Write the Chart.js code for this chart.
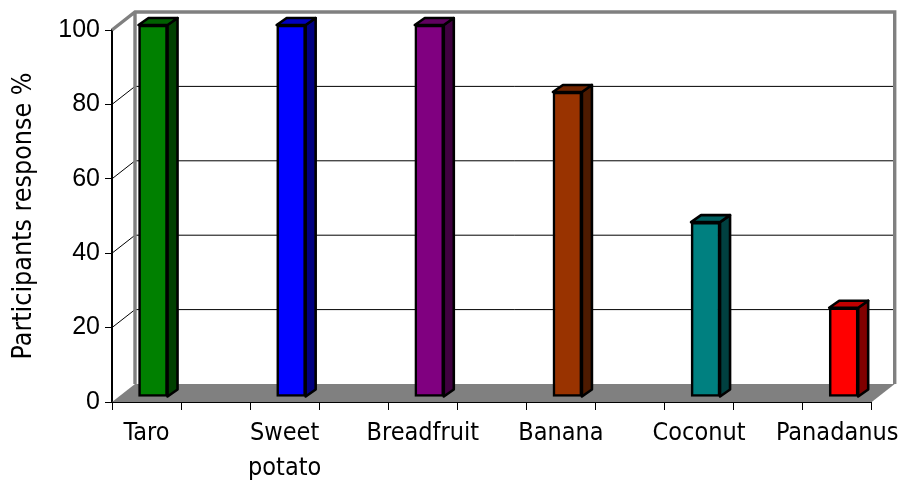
<!DOCTYPE html>
<html>
<head>
<meta charset="utf-8">
<style>
  html, body { margin: 0; padding: 0; background: #fff; }
  #wrap { width: 906px; height: 483px; }
</style>
<script src="https://cdn.jsdelivr.net/npm/chart.js@4"></script>
</head>
<body>
<div id="wrap"><canvas id="cropChart" width="906" height="483"></canvas></div>
<script>
// blank slots between the crops are empty categories in the original chart
const categories = ["Taro", "", ["Sweet", "potato"], "", "Breadfruit", "", "Banana", "", "Coconut", "", "Panadanus"];
const responses = [100, null, 100, null, 100, null, 82, null, 47, null, 24];
const yTicks = [0, 20, 40, 60, 80, 100];

const frontColors = ["#008000", null, "#0000ff", null, "#800080", null, "#993300", null, "#008080", null, "#ff0000"];
const topColors = ["#006000", null, "#0000c0", null, "#600060", null, "#732600", null, "#006060", null, "#c00000"];
const sideColors = ["#004000", null, "#000080", null, "#400040", null, "#4d1a00", null, "#004040", null, "#800000"];

const wallDx = 23, wallDy = -18;   // depth of the 3d box
const barDx = 6.5, barDy = -5;     // bars stand a little way into the floor
const sideDx = 10, sideDy = -7;    // depth of a bar
const barLine = 2.6;

function poly(ctx, pts, fill, stroke, lw) {
    ctx.beginPath();
    pts.forEach((p, i) => i ? ctx.lineTo(p[0], p[1]) : ctx.moveTo(p[0], p[1]));
    ctx.closePath();
    if (fill) { ctx.fillStyle = fill; ctx.fill(); }
    if (stroke) { ctx.strokeStyle = stroke; ctx.lineWidth = lw; ctx.lineJoin = "round"; ctx.stroke(); }
}

const boxPlugin = {
    id: "box3d",
    beforeDatasetsDraw(chart) {
        const ctx = chart.ctx, a = chart.chartArea, y = chart.scales.y;
        ctx.save();
        // floor
        poly(ctx, [[a.left, a.bottom], [a.left + wallDx, a.bottom + wallDy],
                   [a.right + wallDx, a.bottom + wallDy], [a.right, a.bottom]], "#808080");
        // grid lines, side wall then back wall
        ctx.strokeStyle = "#000";
        ctx.lineWidth = 1;
        yTicks.slice(1, -1).forEach(v => {
            const py = y.getPixelForValue(v);
            ctx.beginPath();
            ctx.moveTo(a.left, py);
            ctx.lineTo(a.left + wallDx, py + wallDy);
            ctx.lineTo(a.right + wallDx, py + wallDy);
            ctx.stroke();
        });
        // grey frame of the back wall
        ctx.strokeStyle = "#808080";
        ctx.lineWidth = 3.4;
        ctx.beginPath();
        ctx.moveTo(a.left, a.top);
        ctx.lineTo(a.left + wallDx, a.top + wallDy);
        ctx.lineTo(a.right + wallDx, a.top + wallDy);
        ctx.lineTo(a.right + wallDx, a.bottom + wallDy);
        ctx.moveTo(a.left + wallDx, a.top + wallDy);
        ctx.lineTo(a.left + wallDx, a.bottom + wallDy);
        ctx.stroke();
        ctx.restore();

        // bars get shifted, side and top faces follow them
        ctx.save();
        ctx.translate(barDx, barDy);
        chart.getDatasetMeta(0).data.forEach((bar, i) => {
            if (responses[i] === null) return;
            const l = bar.x - bar.width / 2, r = bar.x + bar.width / 2;
            poly(ctx, [[r, bar.y], [r + sideDx, bar.y + sideDy], [r + sideDx, bar.base + sideDy], [r, bar.base]],
                sideColors[i], "#000", barLine);
            poly(ctx, [[l, bar.y], [l + sideDx, bar.y + sideDy], [r + sideDx, bar.y + sideDy], [r, bar.y]],
                topColors[i], "#000", barLine);
        });
    },
    afterDatasetsDraw(chart) {
        chart.ctx.restore();
    }
};

const labelFont = { family: "'DejaVu Sans Condensed', 'DejaVu Sans', sans-serif", size: 25, lineHeight: 1.4 };
const titleFont = { family: "'DejaVu Sans Condensed', 'DejaVu Sans', sans-serif", size: 26.6 };
const numberFont = { family: "'Liberation Sans', Arial, sans-serif", size: 25 };

new Chart(document.getElementById("cropChart"), {
    type: "bar",
    data: {
        labels: categories,
        datasets: [{
            data: responses,
            backgroundColor: frontColors,
            borderColor: "#000",
            borderWidth: barLine,
            borderSkipped: false,
            barThickness: 29,
            clip: false
        }]
    },
    options: {
        responsive: false,
        animation: false,
        layout: { padding: { top: 30, right: 34, left: 0, bottom: 0 } },
        plugins: { legend: { display: false }, tooltip: { enabled: false } },
        scales: {
            x: {
                grid: { offset: true, drawOnChartArea: false, color: "#000", tickLength: 8 },
                border: { color: "#000", width: 2 },
                ticks: { color: "#000", font: labelFont, autoSkip: false, maxRotation: 0, minRotation: 0, padding: 6 },
                afterFit(scale) { scale.height = 81; }
            },
            y: {
                min: 0,
                max: 100,
                grid: { drawOnChartArea: false, color: "#000", tickLength: 7 },
                border: { color: "#000", width: 2 },
                ticks: { color: "#000", font: numberFont, stepSize: 20, padding: 5 },
                title: {
                    display: true,
                    text: "Participants response %",
                    color: "#000",
                    font: titleFont,
                    padding: { top: 8, bottom: 0 }
                },
                afterFit(scale) { scale.width = 112; }
            }
        }
    },
    plugins: [boxPlugin]
});
</script>
</body>
</html>
